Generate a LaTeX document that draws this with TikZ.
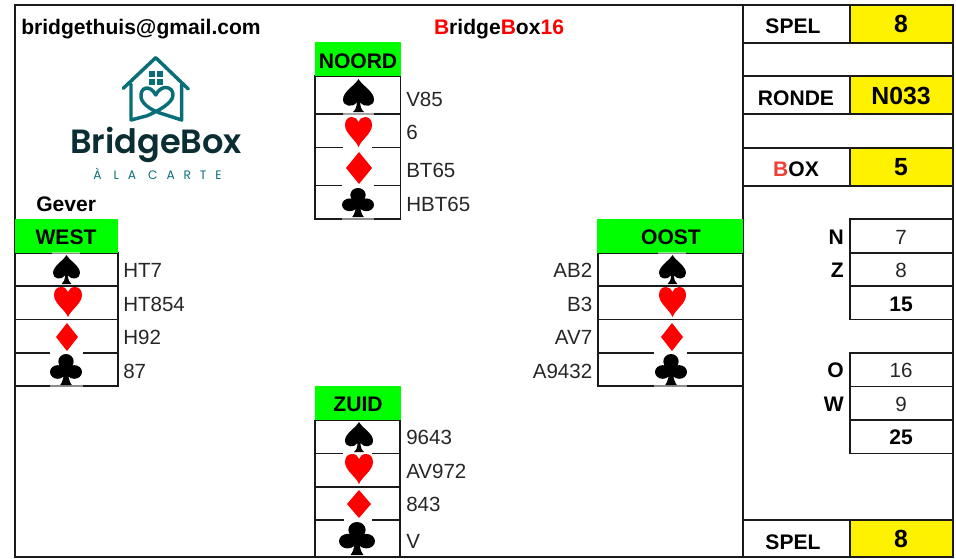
\documentclass[tikz,border=0pt]{standalone}
\usepackage{fontspec}
\setmainfont{Liberation Sans}
\newfontfamily\logofont{Poppins SemiBold}
\newfontfamily\logolight[LetterSpace=72]{Poppins}
\definecolor{lineblack}{HTML}{1A1A1A}
\definecolor{logoteal}{HTML}{0A6E78}
\definecolor{logodark}{HTML}{0B2E33}
\definecolor{boxred}{HTML}{EE4035}
\newcommand{\suitspade}{(0.5,0) .. controls (0.62,0.2) and (1,0.38) .. (1,0.62) .. controls (1,0.84) and (0.68,0.88) .. (0.55,0.7) .. controls (0.56,0.84) and (0.6,0.95) .. (0.68,1) -- (0.32,1) .. controls (0.4,0.95) and (0.44,0.84) .. (0.45,0.7) .. controls (0.32,0.88) and (0,0.84) .. (0,0.62) .. controls (0,0.38) and (0.38,0.2) .. (0.5,0) -- cycle}
\newcommand{\suitheart}{(0.5,1) .. controls (0.4,0.76) and (0,0.55) .. (0,0.27) .. controls (0,0.07) and (0.13,0) .. (0.26,0) .. controls (0.38,0) and (0.47,0.07) .. (0.5,0.17) .. controls (0.53,0.07) and (0.62,0) .. (0.74,0) .. controls (0.87,0) and (1,0.07) .. (1,0.27) .. controls (1,0.55) and (0.6,0.76) .. (0.5,1) -- cycle}
\newcommand{\suitdiamond}{(0.5,0) -- (1,0.5) -- (0.5,1) -- (0,0.5) -- cycle}
\newcommand{\suitclub}{(0.5,0.24) circle [x radius=0.24, y radius=0.24] (0.24,0.58) circle [x radius=0.24, y radius=0.22] (0.76,0.58) circle [x radius=0.24, y radius=0.22] (0.55,0.35) .. controls (0.55,0.7) and (0.6,0.9) .. (0.68,1) -- (0.32,1) .. controls (0.4,0.9) and (0.45,0.7) .. (0.45,0.35) -- cycle}
% type, colour, x0, y0, x1, y1
\newcommand{\suit}[6]{%
  \begin{scope}[shift={(#3,#4)},xscale={#5-#3},yscale={#6-#4}]
    \fill[#2] #1;
  \end{scope}}
% a break in a grid line left by a suit: x0, x1, y, strength
\newcommand{\linegap}[4]{\fill[white,opacity=#4] (#1,#3-1.2) rectangle (#2,#3+1.2);}
\tikzset{
  x=0.75pt,y=-0.75pt,
  grid/.style={draw=lineblack,line width=0.9pt},
  reg/.style={inner sep=0pt,font=\fontsize{15.4}{18}\selectfont,text=black!85},
  bld/.style={inner sep=0pt,font=\fontsize{15.8}{18}\bfseries\selectfont,text=black},
  big/.style={inner sep=0pt,font=\fontsize{18.6}{20}\bfseries\selectfont,text=black,anchor=base},
  lf/.style={reg,anchor=base west},
  rt/.style={reg,anchor=base east},
  ct/.style={reg,anchor=base},
  bc/.style={bld,anchor=base},
  br/.style={bld,anchor=base east},
  logoline/.style={draw=logoteal,line width=2.6pt,line cap=round,line join=round}
}
\begin{document}
\begin{tikzpicture}
\useasboundingbox (0,0) rectangle (956,558);
% yellow and green cells
\fill[yellow] (850,5) rectangle (953,43);
\fill[yellow] (850,76) rectangle (953,114);
\fill[yellow] (850,148) rectangle (953,186);
\fill[yellow] (850,520) rectangle (953,557);
% outer frame
\draw[grid] (15,5) -- (953,5) -- (953,557) -- (15,557) -- cycle;
\draw[grid] (743,5) -- (743,557);
% right panel
\foreach \yy in {43,76,114,148,186,520} \draw[grid] (743,\yy) -- (953,\yy);
\draw[grid] (850,5) -- (850,43);
\draw[grid] (850,76) -- (850,114);
\draw[grid] (850,148) -- (850,186);
\draw[grid] (850,520) -- (850,557);
\draw[grid] (850,219) rectangle (953,319.5);
\draw[grid] (850,253) -- (953,253);
\draw[grid] (850,286) -- (953,286);
\draw[grid] (850,353) rectangle (953,453.5);
\draw[grid] (850,386.5) -- (953,386.5);
\draw[grid] (850,420) -- (953,420);
% hand tables
\draw[grid] (315,76) rectangle (400.5,219);
\foreach \yy in {114,147.5,185.5} \draw[grid] (315,\yy) -- (400.5,\yy);
\draw[grid] (15,253) rectangle (118,386);
\foreach \yy in {286,319.5,353} \draw[grid] (15,\yy) -- (118,\yy);
\draw[grid] (598,253) rectangle (743,386);
\foreach \yy in {286,319.5,353} \draw[grid] (598,\yy) -- (743,\yy);
\draw[grid] (315,420) -- (315,557);
\draw[grid] (400,420) -- (400,557);
\foreach \yy in {420,453.5,487,520} \draw[grid] (315,\yy) -- (400,\yy);
\fill[green] (315,42) rectangle (401,75.5);
\fill[green] (15,219) rectangle (118,252.5);
\fill[green] (597,219) rectangle (743,252.5);
\fill[green] (315,386) rectangle (401,419.5);
% breaks in the grid lines next to the suits
\linegap{343}{374}{114}{0.6}
\linegap{343}{372}{147.5}{1}
\linegap{342}{374}{185.5}{1}
\linegap{342}{374}{219}{0.5}
\linegap{52}{80}{253}{0.5}
\linegap{50}{83}{353}{1}
\linegap{50}{83}{386}{0.5}
\linegap{658}{686}{253}{0.5}
\linegap{654}{687}{353}{1}
\linegap{654}{687}{386}{0.5}
\linegap{343}{372}{453.5}{1}
\linegap{344}{372}{520}{1}
% suits
\suit{\suitspade}{black}{343}{79}{374}{112}
\suit{\suitheart}{red}{345}{117}{372}{147}
\suit{\suitdiamond}{red}{346}{152}{372}{184}
\suit{\suitclub}{black}{342}{188}{374}{217}
\suit{\suitspade}{black}{53}{255}{80}{284}
\suit{\suitheart}{red}{54}{287}{82}{317}
\suit{\suitdiamond}{red}{56}{323}{78}{351}
\suit{\suitclub}{black}{50}{354}{82}{385}
\suit{\suitspade}{black}{659}{255}{686}{284}
\suit{\suitheart}{red}{659}{287}{686}{317}
\suit{\suitdiamond}{red}{661}{323}{683}{351}
\suit{\suitclub}{black}{655}{354}{687}{385}
\suit{\suitspade}{black}{345}{422}{373}{452}
\suit{\suitheart}{red}{345}{454}{373}{484}
\suit{\suitdiamond}{red}{347}{490}{371}{518}
\suit{\suitclub}{black}{339}{522}{375}{555}
% logo
\draw[logoline] (123.3,88.3) -- (155.7,57.7) -- (188.3,89);
\draw[logoline] (131,84) -- (131,120) -- (147.3,115.7) .. controls (158,111) and (173,103) .. (173,95) .. controls (173,86) and (161,84) .. (155.7,95) .. controls (150,84) and (140,87) .. (141,97) .. controls (142,106) and (156,112) .. (163,114) -- (181.7,120) -- (181.7,84);
\fill[logoteal] (149.3,71) rectangle (155.3,77);
\fill[logoteal] (156.9,71) rectangle (162.9,77);
\fill[logoteal] (149.3,78.6) rectangle (155.3,84.6);
\fill[logoteal] (156.9,78.6) rectangle (162.9,84.6);
\node[inner sep=0pt,anchor=base,text=logodark,font=\fontsize{25.2}{27}\logofont\selectfont] (logoname) at (156,153.5) {BridgeBox};
\node[inner sep=0pt,anchor=base,text=logoteal,font=\fontsize{9.2}{10}\logolight\selectfont] (logosub) at (157.5,179) {À LA CARTE};
% heading text
\node[bld,anchor=base west] (mail) at (21,34) {bridgethuis@gmail.com};
\node[bc] (title) at (499,34) {\textcolor{red}{B}ridge\textcolor{red}{B}ox\textcolor{red}{16}};
\node[bld,anchor=base west] (gever) at (36,211) {Gever};
% right panel text
\node[bc] (spela) at (793,33.5) {SPEL};
\node[big] (spelav) at (901,32.5) {8};
\node[bc] (ronde) at (796,105.5) {RONDE};
\node[big] (rondev) at (901,104) {N033};
\node[bc] (boxl) at (796,176) {\textcolor{boxred}{B}OX};
\node[big] (boxv) at (901,175.5) {5};
\node[bc] (spelb) at (793,549) {SPEL};
\node[big] (spelbv) at (901,547) {8};
\node[br] (ln) at (844,244) {N};
\node[br] (lz) at (844,277) {Z};
\node[br] (lo) at (844,377.5) {O};
\node[br] (lw) at (844,411) {W};
\node[ct] (vn) at (901,244) {7};
\node[ct] (vz) at (901,277) {8};
\node[bc] (vnz) at (901,311) {15};
\node[ct] (vo) at (901,377.5) {16};
\node[ct] (vw) at (901,411) {9};
\node[bc] (vow) at (901,444) {25};
% hands
\node[bc] (noord) at (358,68) {NOORD};
\node[lf] (n1) at (406,106) {V85};
\node[lf] (n2) at (406,139) {6};
\node[lf] (n3) at (406,177) {BT65};
\node[lf] (n4) at (406,211) {HBT65};
\node[bc] (west) at (66,244) {WEST};
\node[lf] (w1) at (123,277.5) {HT7};
\node[lf] (w2) at (123,311) {HT854};
\node[lf] (w3) at (123,344) {H92};
\node[lf] (w4) at (123,378) {87};
\node[bc] (oost) at (671,244) {OOST};
\node[rt] (o1) at (592.5,277.5) {AB2};
\node[rt] (o2) at (592.5,311) {B3};
\node[rt] (o3) at (592.5,344) {AV7};
\node[rt] (o4) at (592.5,378) {A9432};
\node[bc] (zuid) at (358,411.5) {ZUID};
\node[lf] (z1) at (406,444) {9643};
\node[lf] (z2) at (406,478) {AV972};
\node[lf] (z3) at (406,511) {843};
\node[lf] (z4) at (406,548) {V};
\end{tikzpicture}
\end{document}
